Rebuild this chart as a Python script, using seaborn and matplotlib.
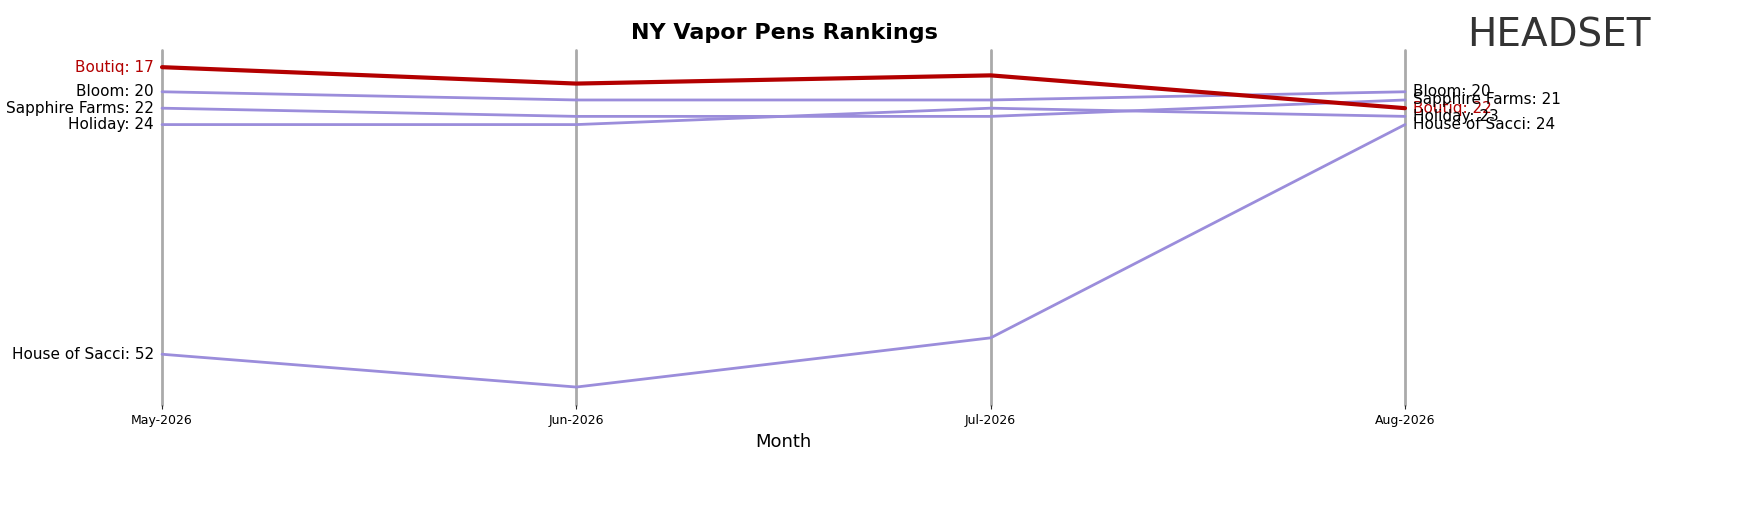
import numpy as np
import pandas as pd
import matplotlib
matplotlib.use("Agg")
import matplotlib.pyplot as plt
import seaborn as sns

months = ["May-2026", "Jun-2026", "Jul-2026", "Aug-2026"]
brands = ["Boutiq", "Bloom", "Sapphire Farms", "Holiday", "House of Sacci"]
boutiq = [17, 19, 18, 22]
bloom = [20, 21, 21, 20]
sapphire = [22, 23, 23, 21]
holiday = [24, 24, 22, 23]
sacci = [52, 56, 50, 24]
ranks = [boutiq, bloom, sapphire, holiday, sacci]

rows = []
for b, r in zip(brands, ranks):
    for i, m in enumerate(months):
        rows.append({"Brand": b, "Month": m, "x": i, "Rank": r[i]})
df = pd.DataFrame(rows)

sns.set_style("white")
plt.rcParams["text.color"] = "black"
fig = plt.figure(figsize=(17.46, 5.07), dpi=100)
ax = fig.add_axes([0.0928, 0.201, 0.7119, 0.700])

for i in range(len(months)):
    ax.axvline(i, color="#aaaaaa", lw=2, zorder=0, clip_on=False)

purple = "#9b8ddb"
for b in brands[::-1]:
    d = df[df.Brand == b]
    hl = b == "Boutiq"
    sns.lineplot(data=d, x="x", y="Rank", ax=ax, color="#b30000" if hl else purple,
                 lw=3 if hl else 2, zorder=3 if hl else 2, clip_on=False)

ax.set_xlim(0, 3)
ax.set_ylim(58.2, 14.93)
ax.set_xticks(range(4))
ax.set_xticklabels(months, fontsize=9, color="black")
ax.tick_params(axis="x", length=3, bottom=True)
ax.set_yticks([])
ax.set_ylabel("")
ax.set_xlabel("Month", fontsize=13, color="black")
for s in ax.spines.values():
    s.set_visible(False)

for b, r in zip(brands, ranks):
    c = "#b30000" if b == "Boutiq" else "black"
    ax.text(-0.02, r[0], f"{b}: {r[0]}", ha="right", va="center", fontsize=11, color=c)
    ax.text(3.02, r[-1], f"{b}: {r[-1]}", ha="left", va="center", fontsize=11, color=c)

fig.text(0.449, 0.935, "NY Vapor Pens Rankings", ha="center", va="center",
         fontsize=16, fontweight="bold")
fig.text(0.893, 0.93, "HEADSET", ha="center", va="center", fontsize=28,
         color="#333333")
fig.savefig("out.png", dpi=100)
